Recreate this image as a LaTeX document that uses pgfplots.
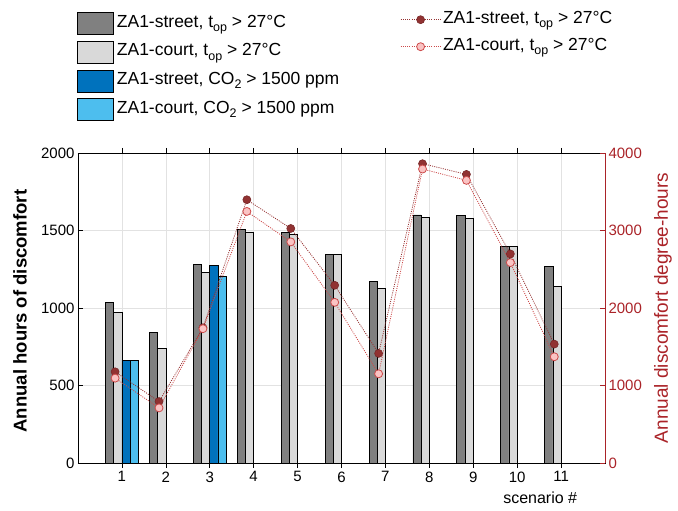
\documentclass[border=0pt]{standalone}
\usepackage{pgfplots}
\pgfplotsset{compat=1.18}
\usepackage{fontspec}
\setmainfont{Liberation Sans}
\newcommand\sub[1]{\raisebox{-4.5pt}{\fontsize{12.5}{12.5}\selectfont #1}}
\definecolor{dgray}{RGB}{128,128,128}
\definecolor{lgray}{RGB}{217,217,217}
\definecolor{dblue}{RGB}{0,114,189}
\definecolor{lblue}{RGB}{77,190,238}
\definecolor{axred}{RGB}{170,35,40}
\definecolor{strl}{RGB}{150,50,50}
\definecolor{strf}{RGB}{145,50,50}
\definecolor{crtf}{RGB}{250,195,195}
\definecolor{crte}{RGB}{205,75,75}
\definecolor{gridc}{RGB}{226,226,226}
\begin{document}
\begin{tikzpicture}
\useasboundingbox (-78pt,-48pt) rectangle (600pt,463pt);
\begin{axis}[
  scale only axis, width=527pt, height=310pt,
  xmin=0, xmax=12, ymin=0, ymax=2000,
  xtick={1,...,11}, ytick={0,500,...,2000},
  ytick pos=left, xtick pos=both,
  tick align=inside, major tick length=5pt,
  tick style={black, line width=0.6pt},
  axis line style={black, line width=0.7pt},
  grid=major, grid style={gridc, line width=0.6pt},
  /pgf/number format/assume math mode=true,
  /pgf/number format/set thousands separator={},
  ticklabel style={font=\fontsize{15}{18}\selectfont},
  ylabel={\textbf{Annual hours of discomfort}},
  ylabel style={at={(axis description cs:-0.11,0.49)}, anchor=center, font=\fontsize{18.5}{21}\selectfont},
  xlabel={scenario \#},
  xlabel style={at={(axis description cs:0.877,-0.112)}, anchor=center, font=\fontsize{16}{19}\selectfont},
  ybar, bar width=0.187,
  legend image code/.code={\draw[#1] (0pt,-11pt) rectangle (36pt,11pt);},
  legend style={at={(axis description cs:0,1)}, anchor=north west, xshift=-1pt, yshift=141pt,
    draw=none, fill=none, inner sep=0pt, row sep=6pt,
    font=\fontsize{17.5}{20}\selectfont,
    nodes={inner xsep=3pt, inner ysep=0pt, text height=13pt, text depth=6pt}},
  legend cell align=left,
]
\addplot[fill=dgray, draw=black, line width=0.7pt, bar shift=-0.28] coordinates {
 (1,1034) (2,840) (3,1280) (4,1509) (5,1485) (6,1347) (7,1174) (8,1600) (9,1595) (10,1395) (11,1269)};
\addlegendentry{ZA1-street, t\sub{op} > 27°C}
\addplot[fill=lgray, draw=black, line width=0.7pt, bar shift=-0.093] coordinates {
 (1,970) (2,741) (3,1228) (4,1491) (5,1478) (6,1347) (7,1127) (8,1587) (9,1576) (10,1395) (11,1140)};
\addlegendentry{ZA1-court, t\sub{op} > 27°C}
\addplot[fill=dblue, draw=black, line width=0.7pt, bar shift=0.093] coordinates {(1,664) (3,1276)};
\addlegendentry{ZA1-street, CO\sub{2} > 1500 ppm}
\addplot[fill=lblue, draw=black, line width=0.7pt, bar shift=0.28] coordinates {(1,664) (3,1203)};
\addlegendentry{ZA1-court, CO\sub{2} > 1500 ppm}
\end{axis}
\begin{axis}[
  scale only axis, width=527pt, height=310pt,
  xmin=0, xmax=12, ymin=0, ymax=4000,
  axis x line=none, axis y line*=right,
  ytick={0,1000,...,4000},
  tick align=inside, major tick length=5pt,
  y axis line style={axred, line width=0.7pt},
  ytick style={axred, line width=0.6pt},
  /pgf/number format/assume math mode=true,
  /pgf/number format/set thousands separator={},
  yticklabel style={axred, font=\fontsize{15}{18}\selectfont},
  ylabel={Annual discomfort degree-hours},
  ylabel style={at={(axis description cs:1.11,0.5)}, anchor=center, axred, font=\fontsize{19}{22}\selectfont},
  legend image code/.code={\draw[mark repeat=2, mark phase=2, #1] plot coordinates {(0pt,0pt) (20pt,0pt) (40pt,0pt)};},
  legend style={at={(axis description cs:0,1)}, anchor=north west, xshift=322pt, yshift=143pt,
    draw=none, fill=none, inner sep=0pt, row sep=8pt,
    font=\fontsize{17.5}{20}\selectfont,
    nodes={inner xsep=2pt, inner ysep=0pt, text height=13pt, text depth=6pt}},
  legend cell align=left,
]
\addplot[strl, line width=0.8pt, dash pattern=on 1pt off 1.2pt, mark=*, mark size=4pt,
  mark options={solid, fill=strf, draw=strl!80!black, line width=0.6pt}] coordinates {
 (0.845,1177) (1.845,793) (2.845,1745) (3.845,3397) (4.845,3026) (5.845,2293) (6.845,1414) (7.845,3862) (8.845,3724) (9.845,2698) (10.845,1534)};
\addlegendentry{ZA1-street, t\sub{op} > 27°C}
\addplot[crte, line width=0.8pt, dash pattern=on 1pt off 1.2pt, mark=*, mark size=4pt,
  mark options={solid, fill=crtf, draw=crte, line width=0.8pt}] coordinates {
 (0.845,1095) (1.845,711) (2.845,1733) (3.845,3246) (4.845,2853) (5.845,2073) (6.845,1151) (7.845,3793) (8.845,3647) (9.845,2586) (10.845,1371)};
\addlegendentry{ZA1-court, t\sub{op} > 27°C}
\end{axis}
\end{tikzpicture}
\end{document}
